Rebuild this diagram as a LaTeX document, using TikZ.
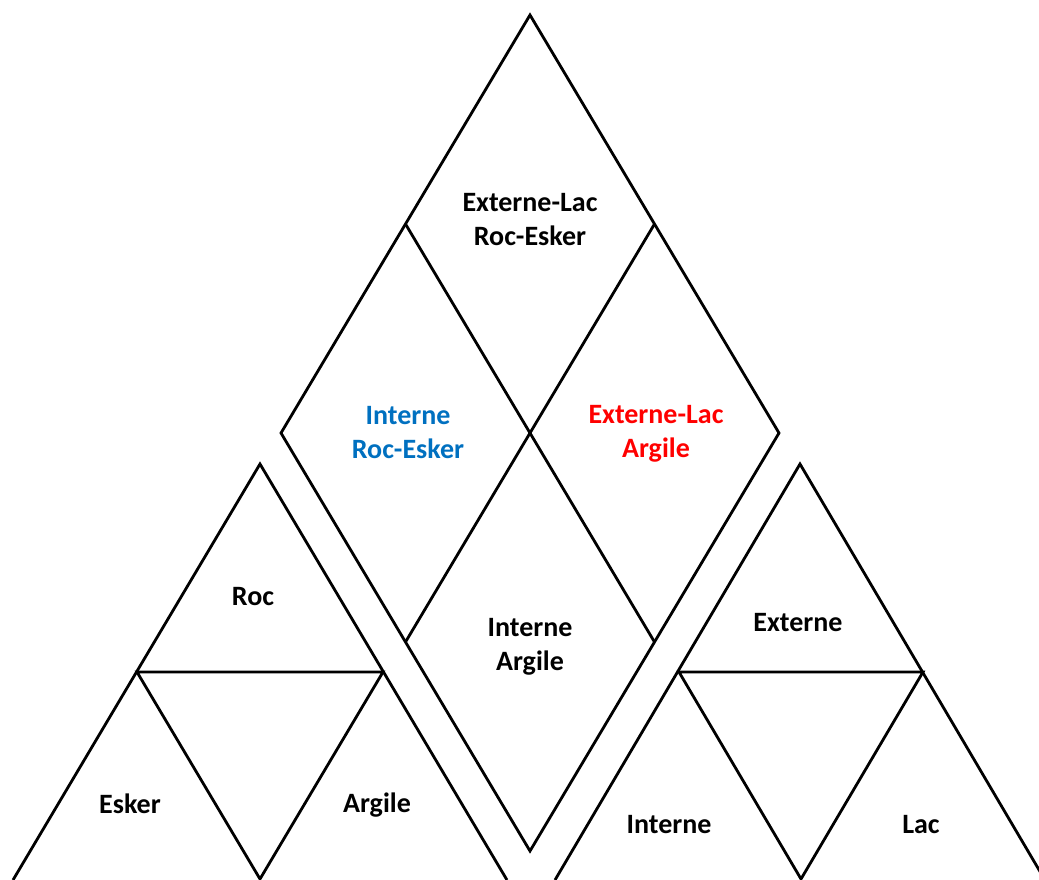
\documentclass[tikz,border=0pt]{standalone}
\usepackage{fontspec}
\setmainfont{Carlito}
\definecolor{lblue}{RGB}{0,112,192}
\definecolor{lred}{RGB}{255,0,0}
\begin{document}
\begin{tikzpicture}[x=1pt,y=-1pt,
  edge/.style={draw=black,line width=2.8pt,line join=miter},
  lbl/.style={font=\fontsize{28}{34}\selectfont\bfseries,align=center,inner sep=0pt}]
\useasboundingbox (0,0) rectangle (1039,879);
\begin{scope}
\clip (0,0) rectangle (1039,879);
% big diamond and its four sub-diamonds
\coordinate (dT) at (530,15);
\coordinate (dL) at (281,433);
\coordinate (dB) at (530,851);
\coordinate (dR) at (779,433);
\coordinate (mTL) at (405.5,224);
\coordinate (mTR) at (654.5,224);
\coordinate (mBL) at (405.5,642);
\coordinate (mBR) at (654.5,642);
\draw[edge] (dT) -- (dR) -- (dB) -- (dL) -- cycle;
\draw[edge] (mTL) -- (mBR);
\draw[edge] (mTR) -- (mBL);
% left triangle
\coordinate (lA) at (260,464);
\coordinate (lBL) at (13,880);
\coordinate (lBR) at (507,880);
\coordinate (lML) at (137,672);
\coordinate (lMR) at (383,672);
\coordinate (lV) at (260,879);
\draw[edge] (lBL) -- (lA) -- (lBR);
\draw[edge] (lML) -- (lMR) -- (lV) -- cycle;
% right triangle
\coordinate (rA) at (800,464);
\coordinate (rBL) at (555,880);
\coordinate (rBR) at (1045,880);
\coordinate (rML) at (679,672);
\coordinate (rMR) at (923,672);
\coordinate (rV) at (801,879);
\draw[edge] (rBL) -- (rA) -- (rBR);
\draw[edge] (rML) -- (rMR) -- (rV) -- cycle;
\end{scope}
% labels
\node[lbl] (t1) at (530,219.5) {Externe-Lac\\Roc-Esker};
\node[lbl,text=lblue] (t2) at (408,433) {Interne\\Roc-Esker};
\node[lbl,text=lred] (t3) at (656,433.5) {Externe-Lac\\Argile};
\node[lbl] (t4) at (530,646.5) {Interne\\Argile};
\node[lbl] (t5) at (253,596.5) {Roc};
\node[lbl] (t6) at (130,804) {Esker};
\node[lbl] (t7) at (377,805) {Argile};
\node[lbl] (t8) at (798,622.5) {Externe};
\node[lbl] (t9) at (669,825) {Interne};
\node[lbl] (t10) at (921,825) {Lac};
\end{tikzpicture}
\end{document}
